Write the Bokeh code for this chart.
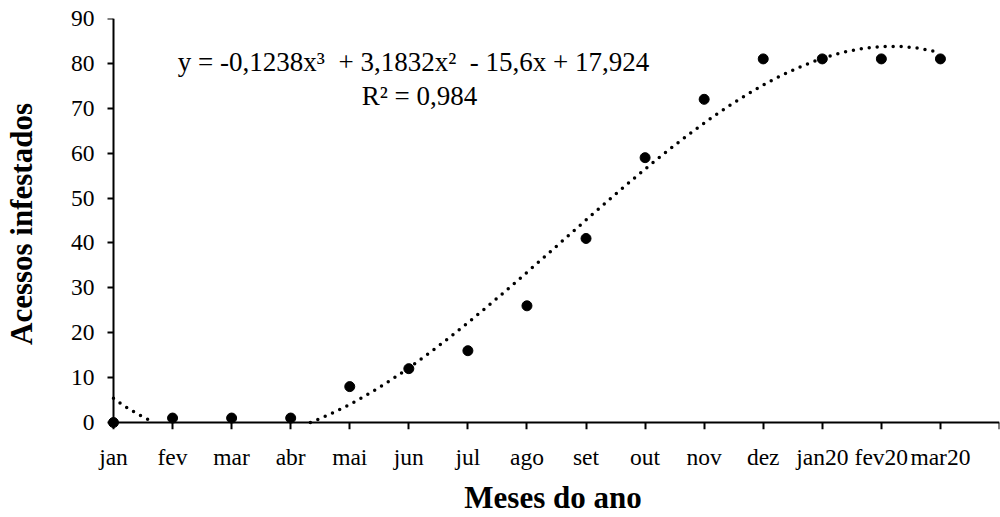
from bokeh.plotting import figure
from bokeh.models import Range1d, FixedTicker, Label, ColumnDataSource, LinearAxis
from bokeh.embed import file_html
from bokeh.resources import INLINE
import numpy as np

months = ["jan", "fev", "mar", "abr", "mai", "jun", "jul", "ago", "set",
          "out", "nov", "dez", "jan20", "fev20", "mar20"]
infested = [0, 1, 1, 1, 8, 12, 16, 26, 41, 59, 72, 81, 81, 81, 81]
trend_coef = [-0.1238, 3.1832, -15.6, 17.924]
y_ticks = [0, 10, 20, 30, 40, 50, 60, 70, 80, 90]
x_ticks = list(range(1, 17))
equation = "y = -0,1238x\u00b3\u00a0 + 3,1832x\u00b2\u00a0 - 15,6x + 17,924"
r2_text = "R\u00b2 = 0,984"
x_title = "Meses do ano"
y_title = "Acessos infestados"

FONT = "Liberation Serif"

# layout geometry (pixels)
W, H = 1000, 517
pad_x, pad_y = 7, 7            # space between frame edge and the drawn axis lines
left, right, top, bottom = 111 - pad_x, 1, 18, 93 - pad_y
fw = W - left - right
fh = H - top - bottom
x_end, y_end = 16, 90
x0 = (fw * 1 - pad_x * x_end) / (fw - pad_x)
y0 = (0 - pad_y * y_end / fh) / (1 - pad_y / fh)

x_pos = list(range(1, len(months) + 1))
xs = np.linspace(1, len(months), 400)
ys = np.polyval(trend_coef, xs)
ys = np.where(ys < 0, np.nan, ys)

p = figure(width=W, height=H, x_range=Range1d(x0, x_end), y_range=Range1d(y0, y_end),
           output_backend="svg", toolbar_location=None,
           min_border_left=left, min_border_right=right, min_border_top=top,
           min_border_bottom=bottom)
p.title.visible = False
p.outline_line_color = None
p.xgrid.visible = False
p.ygrid.visible = False
p.background_fill_color = "white"
p.border_fill_color = "white"

p.line(xs, ys, line_color="black", line_width=3.5, line_dash="0 8", line_cap="round")
src = ColumnDataSource(dict(x=x_pos, y=infested))
p.scatter("x", "y", source=src, size=10, color="black")

# label axes (at frame edges): only tick labels and titles
xa = p.xaxis[0]
xa.ticker = FixedTicker(ticks=x_ticks)
overrides = {i + 1: m for i, m in enumerate(months)}
overrides[16] = ""
xa.major_label_overrides = overrides
ya = p.yaxis[0]
ya.ticker = FixedTicker(ticks=y_ticks)
for ax in (xa, ya):
    ax.axis_line_color = None
    ax.major_tick_line_color = None
    ax.minor_tick_line_color = None
    ax.major_tick_out = 0
    ax.major_tick_in = 0
    ax.major_label_text_font = FONT
    ax.major_label_text_font_size = "23.5px"
    ax.major_label_text_color = "black"
    ax.axis_label_text_font = FONT
    ax.axis_label_text_font_size = "31px"
    ax.axis_label_text_font_style = "bold"
    ax.axis_label_text_color = "black"
xa.major_label_standoff = 14
ya.major_label_standoff = 12
xa.axis_label = x_title
ya.axis_label = y_title
xa.axis_label_standoff = 7
ya.axis_label_standoff = 29

# drawn axes (lines and ticks) fixed at x=1 / y=0
line_x = LinearAxis(fixed_location=0, bounds=(1, x_end), ticker=FixedTicker(ticks=x_ticks),
                    major_label_overrides={t: "" for t in x_ticks})
line_y = LinearAxis(fixed_location=1, bounds=(0, y_end), ticker=FixedTicker(ticks=y_ticks),
                    major_label_overrides={t: "" for t in y_ticks})
for ax, tick in ((line_x, 7), (line_y, 6)):
    ax.axis_line_width = 2
    ax.axis_line_color = "black"
    ax.major_tick_line_width = 2
    ax.major_tick_line_color = "black"
    ax.major_tick_out = 0
    ax.major_tick_in = tick
    ax.minor_tick_line_color = None
    ax.major_label_standoff = 0
    ax.major_label_text_font_size = "0px"
p.add_layout(line_x, "above")
p.add_layout(line_y, "right")

p.add_layout(Label(x=6.08, y=80.3, text=equation, text_align="center", text_baseline="middle",
                   text_font=FONT, text_font_size="27px", text_color="black"))
p.add_layout(Label(x=6.18, y=72.7, text=r2_text, text_align="center", text_baseline="middle",
                   text_font=FONT, text_font_size="27px", text_color="black"))

open("out.html", "w").write(file_html(p, INLINE))
